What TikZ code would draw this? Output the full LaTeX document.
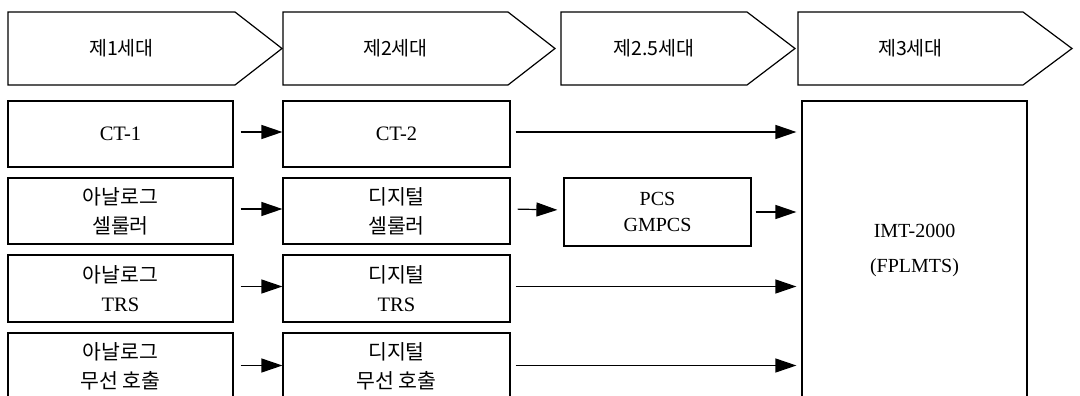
\documentclass[tikz,border=0pt]{standalone}
\usepackage{fontspec}
\setmainfont{Liberation Serif}
\newfontfamily\kr{Noto Sans CJK KR}
\usetikzlibrary{arrows.meta}
\begin{document}
\begin{tikzpicture}[x=1pt,y=-1pt,
  hdr/.style={draw=black, line width=1.2pt, line join=miter},
  hdrtext/.style={font=\kr\fontsize{19.5}{23}\selectfont, inner sep=0pt},
  box/.style={draw=black, line width=1.2pt, rectangle, inner sep=0pt, align=center, font=\fontsize{20.5}{29}\selectfont},
  conn/.style={line width=1.2pt, -{Triangle[length=21pt,width=14pt]}},
]
\useasboundingbox (0,0) rectangle (1080,396);
\clip (0,0) rectangle (1080,396);
\fill[white] (0,0) rectangle (1080,396);

% header arrows
\draw[hdr] (8,12) -- (235,12) -- (282,48.5) -- (235,85) -- (8,85) -- cycle;
\node[hdrtext] (h1) at (121.5,48.5) {제1세대};
\draw[hdr] (283,12) -- (508,12) -- (555,48.5) -- (508,85) -- (283,85) -- cycle;
\node[hdrtext] (h2) at (395.5,48.5) {제2세대};
\draw[hdr] (561,12) -- (747,12) -- (795,48.5) -- (747,85) -- (561,85) -- cycle;
\node[hdrtext] (h3) at (654,48.5) {제2.5세대};
\draw[hdr] (798,12) -- (1023,12) -- (1072,48.5) -- (1023,85) -- (798,85) -- cycle;
\node[hdrtext] (h4) at (910.5,48.5) {제3세대};

% first generation column
\node[box, minimum width=225pt, minimum height=66pt] (a1) at (120.5,134) {CT-1};
\node[box, minimum width=225pt, minimum height=66pt] (a2) at (120.5,211) {{\kr 아날로그}\\{\kr 셀룰러}};
\node[box, minimum width=225pt, minimum height=67pt] (a3) at (120.5,288.5) {{\kr 아날로그}\\TRS};
\node[box, minimum width=225pt, minimum height=67pt] (a4) at (120.5,366.5) {{\kr 아날로그}\\{\kr 무선 호출}};

% second generation column
\node[box, minimum width=227pt, minimum height=66pt] (b1) at (396.5,134) {CT-2};
\node[box, minimum width=227pt, minimum height=66pt] (b2) at (396.5,211) {{\kr 디지털}\\{\kr 셀룰러}};
\node[box, minimum width=227pt, minimum height=67pt] (b3) at (396.5,288.5) {{\kr 디지털}\\TRS};
\node[box, minimum width=227pt, minimum height=67pt] (b4) at (396.5,366.5) {{\kr 디지털}\\{\kr 무선 호출}};

% 2.5 generation
\node[box, minimum width=187pt, minimum height=68pt, font=\fontsize{20}{26}\selectfont] (p) at (657.5,212) {PCS\\GMPCS};

% third generation
\node[box, minimum width=225pt, minimum height=299pt, font=\fontsize{20}{35}\selectfont] (imt) at (914.5,250.5) {IMT-2000\\(FPLMTS)};

% connectors
\draw[conn, shorten <=7pt] ([yshift=2pt]a1.east) -- ([yshift=2pt]b1.west);
\draw[conn, shorten <=7pt] ([yshift=2pt]a2.east) -- ([yshift=2pt]b2.west);
\draw[conn, shorten <=7pt] ([yshift=2pt]a3.east) -- ([yshift=2pt]b3.west);
\draw[conn, shorten <=7pt] ([yshift=1pt]a4.east) -- ([yshift=1pt]b4.west);

\draw[conn, shorten <=5pt, shorten >=5pt] ([yshift=2pt]b1.east) -- ([yshift=2pt]b1.east -| imt.west);
\draw[conn, shorten <=7pt, shorten >=6pt] ([yshift=2pt]b2.east) -- ([yshift=2pt]p.west);
\draw[conn, shorten <=4pt, shorten >=5pt] (p.east) -- (p.east -| imt.west);
\draw[conn, shorten <=5pt, shorten >=5pt] ([yshift=2pt]b3.east) -- ([yshift=2pt]b3.east -| imt.west);
\draw[conn, shorten <=5pt, shorten >=5pt] ([yshift=1pt]b4.east) -- ([yshift=1pt]b4.east -| imt.west);
\end{tikzpicture}
\end{document}
